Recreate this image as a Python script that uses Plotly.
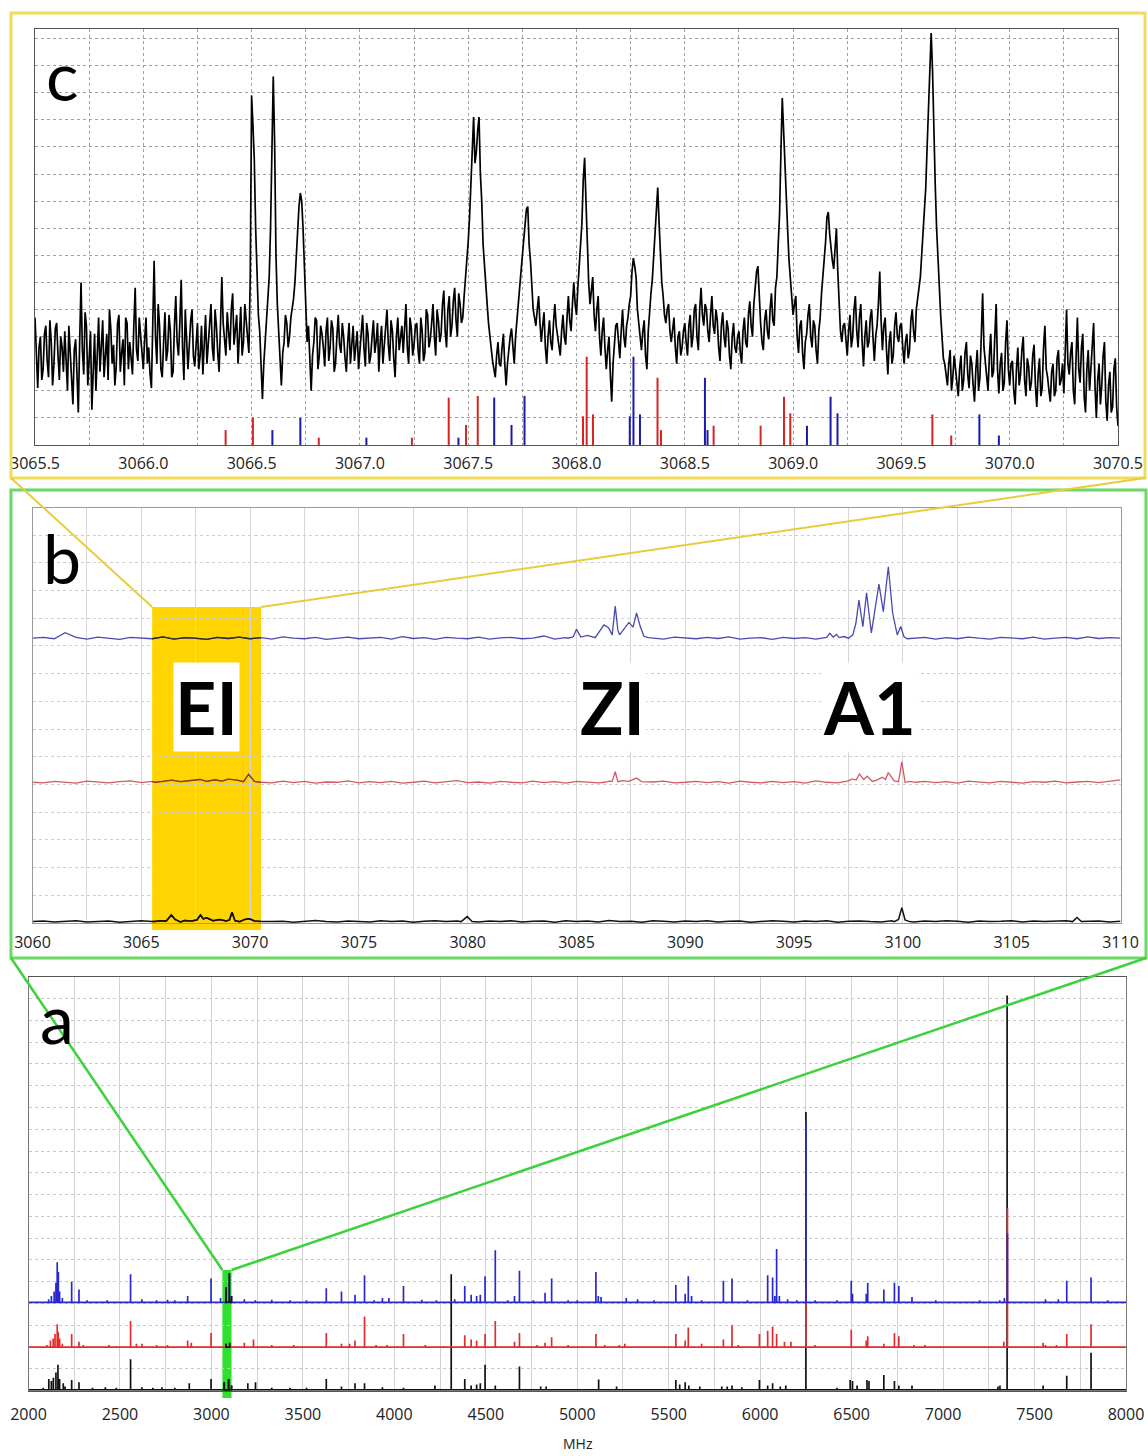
import numpy as np
import plotly.graph_objects as go

W, H = 1148, 1456

# ---------------- panel c (zoom 3065.5-3070.5 MHz) ----------------
c_x0, c_x1 = 3065.5, 3070.5
# signal in tenths of a grid unit, sampled every 0.0125 MHz
c_signal = [
    47, 21, 40, 28, 44, 25, 38, 30, 45, 24, 36, 42, 20, 33, 15, 39, 12, 60, 26, 44,
    30, 13, 41, 35, 27, 46, 32, 24, 43, 37, 29, 48, 34, 22, 45, 38, 26, 58, 31, 40,
    28, 47, 36, 21, 68, 30, 44, 25, 49, 35, 42, 27, 55, 33, 61, 24, 41, 37, 50, 29,
    45, 33, 26, 48, 38, 52, 31, 44, 27, 62, 40, 49, 35, 56, 42, 30, 51, 38, 46, 34,
    129, 105, 60, 42, 17, 38, 55, 80, 136, 70, 42, 22, 38, 45, 40, 50, 60, 78, 93, 80,
    55, 44, 20, 38, 46, 33, 41, 29, 47, 36, 43, 30, 48, 34, 40, 27, 45, 37, 31, 42,
    35, 48, 29, 41, 33, 46, 38, 27, 44, 36, 50, 31, 42, 25, 47, 39, 34, 52, 30, 43,
    37, 45, 30, 42, 34, 48, 39, 52, 33, 46, 41, 57, 36, 55, 44, 58, 40, 52, 47, 62,
    75, 98, 121, 108, 121, 90, 65, 52, 40, 31, 25, 38, 29, 41, 22, 36, 43, 30, 47, 58,
    70, 84, 88, 68, 50, 44, 55, 38, 49, 30, 46, 35, 52, 40, 33, 48, 37, 55, 42, 60,
    48, 66, 82, 106, 72, 52, 62, 42, 55, 33, 47, 28, 40, 16, 38, 45, 32, 50, 36, 47,
    55, 69, 62, 44, 35, 46, 28, 50, 61, 80, 95, 70, 55, 45, 52, 38, 47, 30, 42, 36,
    45, 33, 48, 40, 52, 35, 58, 44, 50, 38, 55, 41, 46, 31, 49, 36, 43, 28, 45, 34,
    42, 30, 47, 36, 53, 40, 58, 66, 45, 35, 50, 39, 56, 44, 62, 85, 128, 101, 79, 60,
    48, 55, 34, 46, 28, 41, 52, 36, 44, 30, 47, 62, 75, 86, 72, 65, 80, 50, 38, 45,
    33, 48, 40, 55, 36, 52, 29, 46, 38, 50, 31, 44, 64, 35, 47, 26, 42, 33, 49, 38,
    45, 30, 41, 35, 50, 38, 55, 62, 75, 95, 125, 152, 114, 80, 58, 40, 30, 22, 35, 25,
    28, 18, 33, 24, 38, 21, 30, 16, 35, 25, 56, 30, 20, 41, 27, 52, 19, 34, 23, 46,
    22, 31, 15, 36, 26, 40, 18, 29, 23, 37, 14, 32, 21, 44, 25, 16, 30, 20, 35, 24,
    19, 50, 26, 38, 15, 47, 23, 41, 12, 35, 28, 45, 10, 30, 22, 38, 9, 27, 14, 32,
    7,
]
# in-between samples (offset by half a step), tenths of a grid unit
c_signal_mid = [
    30, 36, 24, 41, 31, 46, 22, 43, 33, 40, 27, 31, 44, 24, 35, 26, 38, 35, 49, 22,
    42, 29, 20, 47, 38, 25, 41, 50, 30, 22, 45, 27, 39, 47, 28, 30, 44, 35, 47, 33,
    39, 30, 26, 45, 40, 52, 28, 38, 31, 48, 25, 44, 38, 45, 36, 50, 28, 46, 33, 38,
    28, 44, 37, 30, 47, 36, 50, 34, 44, 45, 33, 40, 50, 37, 48, 42, 33, 52, 40, 62,
    118, 80, 48, 28, 30, 46, 62, 105, 112, 52, 30, 34, 48, 36, 47, 54, 70, 88, 90, 66,
    38, 30, 33, 47, 28, 44, 36, 42, 31, 46, 27, 40, 37, 45, 32, 38, 30, 44, 36, 28,
    41, 36, 45, 30, 40, 34, 45, 38, 30, 43, 37, 46, 32, 40, 35, 44, 46, 36, 47, 33,
    44, 35, 47, 31, 50, 36, 45, 40, 50, 38, 52, 42, 50, 40, 53, 46, 56, 45, 55, 66,
    84, 110, 104, 116, 100, 74, 58, 45, 36, 28, 33, 30, 36, 30, 30, 40, 35, 40, 52, 64,
    78, 87, 74, 58, 47, 50, 45, 44, 36, 40, 38, 45, 44, 36, 42, 40, 47, 46, 52, 52,
    58, 72, 98, 90, 60, 58, 48, 50, 40, 42, 36, 35, 26, 30, 44, 36, 42, 40, 44, 52,
    64, 66, 50, 38, 42, 33, 42, 56, 70, 90, 82, 60, 48, 50, 42, 44, 36, 40, 33, 42,
    38, 44, 36, 50, 40, 50, 48, 52, 42, 48, 44, 50, 36, 44, 40, 46, 33, 40, 36, 40,
    34, 42, 38, 48, 44, 52, 64, 52, 38, 46, 42, 50, 46, 58, 74, 108, 116, 92, 68, 52,
    52, 40, 44, 34, 38, 48, 40, 46, 35, 42, 56, 70, 84, 78, 68, 74, 64, 42, 44, 38,
    42, 36, 50, 42, 47, 38, 40, 36, 47, 40, 40, 52, 46, 44, 35, 38, 30, 44, 40, 44,
    36, 38, 32, 46, 42, 50, 58, 70, 86, 110, 140, 138, 96, 68, 48, 32, 26, 30, 20, 33,
    22, 28, 20, 34, 26, 33, 22, 28, 20, 40, 36, 24, 33, 25, 40, 28, 30, 20, 38, 28,
    30, 20, 28, 22, 35, 24, 32, 20, 33, 22, 26, 18, 36, 28, 20, 27, 18, 32, 22, 30,
    34, 30, 34, 20, 32, 28, 36, 18, 28, 20, 40, 22, 24, 15, 33, 16, 22, 12, 28, 14,
]
c_red_x = [3066.38, 3066.506, 3066.81, 3067.24, 3067.41, 3067.49, 3067.544, 3068.03, 3068.047,
           3068.076, 3068.374, 3068.39, 3068.633, 3068.85, 3068.958, 3068.987, 3069.643, 3069.73]
c_red_h = [0.55, 1.0, 0.27, 0.27, 1.75, 0.74, 1.81, 1.06, 3.26,
           1.13, 2.48, 0.55, 0.71, 0.71, 1.78, 1.17, 1.13, 0.35]
c_blue_x = [3066.596, 3066.725, 3067.03, 3067.455, 3067.62, 3067.70, 3067.76, 3068.246, 3068.263,
            3068.293, 3068.593, 3068.605, 3069.064, 3069.173, 3069.205, 3069.86, 3069.95]
c_blue_h = [0.55, 1.0, 0.27, 0.27, 1.75, 0.74, 1.81, 1.06, 3.26,
            1.13, 2.48, 0.55, 0.71, 1.78, 1.17, 1.13, 0.35]

# ---------------- panel b (3060-3110 MHz) ----------------
b_x0, b_x1 = 3060, 3110
b_blue_base, b_red_base, b_black_base = 10.28, 5.08, 0.05
b_blue_wiggle = [0, 3, -2, 20, 3, -3, 4, 0, -4, 3, 1, -2, 5, -3, 2, 0, -4, 3, -1, 4,
                 -2, 2, -3, 5, 0, -2, 3, -4, 1, 4, -2, 0, 3, -3, 6, -1, 2, -4, 3, 0,
                 -2, 4, -3, 1, 3, -2, 0, 8, -3, 2, -1, 4, -3, 0, 3, -4, 2, 1, -3, 4,
                 0, -2, 3, -1, 5, -3, 0, 2, -4, 3, -1, 2, -3, 4, 0, -2, 3, -4, 2, 5,
                 -1, 0, 3, -3, 2, -2, 4, 0, -3, 3, 1, -2, 4, -3, 0, 3, -2, 5, -1, 2, 0]
b_red_wiggle = [0, -2, 3, 1, -3, 4, 0, -2, 2, 5, -1, 3, -3, 2, 0, 4, -2, 1, 3, -3,
                2, 0, -2, 4, -1, 3, -3, 1, 0, 5, -2, 2, -1, 3, -3, 0, 4, -2, 2, 6,
                -1, 1, -3, 3, 0, -2, 4, -1, 2, -3, 3, 0, -2, 5, -1, 2, -3, 1, 4, -2,
                0, 3, -1, 2, -3, 4, 0, -2, 3, -1, 2, -3, 5, 0, -2, 3, -1, 1, -3, 4,
                0, -2, 3, -1, 2, -3, 4, 0, -2, 3, 1, -3, 2, 0, 4, -2, 1, 3, -1, 5, 9]
b_black_wiggle = [0, 2, -1, 1, 3, -1, 0, 2, -2, 1, 3, 0, -1, 2, 0, 4, -1, 1, 0, 2,
                  -1, 3, 0, 1, -2, 2, 4, 0, -1, 2, 1, -1, 3, 0, 2, -2, 1, 3, 0, 2,
                  5, -1, 2, 0, 3, -1, 1, 2, -2, 3, 0, 2, -1, 4, 0, 1, -2, 3, 1, -1,
                  2, 0, 3, -1, 1, 2, -2, 0, 3, 1, -1, 2, 0, 3, -2, 1, 2, 0, -1, 3,
                  1, -1, 2, 0, 3, 1, -2, 2, 0, 1, 3, -1, 2, 0, 1, 3, 8, 0, 2, -1, 1]
b_blue_clusters = [
    ([3084.6, 3084.85, 3085.0, 3085.2, 3085.5, 3085.86, 3086.05, 3086.26, 3086.47, 3086.64,
      3086.78, 3086.9, 3086.98, 3087.24, 3087.41, 3087.6, 3087.76, 3087.93, 3088.1, 3088.3, 3088.6],
     [0, 5, 32, 4, 10, 2, 22, 48, 38, 12, 116, 30, 12, 42, 57, 40, 91, 42, 7, 2, 0]),
    ([3096.3, 3096.5, 3096.64, 3096.8, 3096.95, 3097.07, 3097.3, 3097.5, 3097.7, 3097.84,
      3097.98, 3098.16, 3098.33, 3098.55, 3098.75, 3098.9, 3099.1, 3099.33, 3099.53, 3099.74,
      3099.9, 3100.05, 3100.2, 3100.5],
     [0, 3, 18, 4, 14, 2, 6, 0, 12, 54, 138, 42, 164, 19, 120, 195, 96, 258, 90, 12, 42, 5, -2, 0]),
]
b_red_clusters = [
    ([3065.6, 3066.0, 3066.4, 3066.8, 3067.2, 3067.7, 3068.0, 3068.4, 3068.7, 3069.0, 3069.4,
      3069.7, 3069.93, 3070.2, 3070.5],
     [0, 3, 8, 2, 5, 10, 3, 9, 4, 11, 8, 2, 29, 3, 0]),
    ([3086.3, 3086.5, 3086.64, 3086.78, 3086.9, 3087.1, 3087.4, 3087.76, 3088.0, 3088.3],
     [0, 4, 3, 38, 2, 6, 3, 15, 2, 0]),
    ([3097.2, 3097.5, 3097.67, 3097.85, 3098.0, 3098.2, 3098.36, 3098.6, 3098.8, 3099.05,
      3099.2, 3099.33, 3099.6, 3099.8, 3099.95, 3100.1, 3100.3, 3100.6],
     [0, 5, 12, 8, 30, 10, 22, 3, 8, 18, 10, 35, 5, 2, 74, 0, 3, 0]),
]
b_black_clusters = [
    ([3065.6, 3065.9, 3066.15, 3066.38, 3066.55, 3066.8, 3067.0, 3067.3, 3067.55, 3067.72,
      3067.85, 3068.0, 3068.3, 3068.6, 3068.9, 3069.05, 3069.17, 3069.3, 3069.52, 3069.75,
      3069.97, 3070.2, 3070.5],
     [0, 3, 2, 24, 8, -1, 4, 2, 6, 24, 10, 14, 3, 8, 2, 6, 34, 4, 0, 8, 10, 2, 0]),
    ([3079.7, 3079.98, 3080.2], [0, 18, 0]),
    ([3099.6, 3099.8, 3099.95, 3100.1, 3100.3], [0, 8, 50, 6, 0]),
    ([3107.8, 3108.0, 3108.2], [0, 15, 0]),
]
b_labels = ["EI", "ZI", "A1"]
b_label_x = [3067.99, 3086.65, 3098.46]
b_label_y = 7.78

# ---------------- panel a (2000-8000 MHz) ----------------
a_x0, a_x1 = 2000, 8000
a_blue_base, a_red_base, a_black_base = 4.05, 2.0, 0.04
a_blue_x = [2110, 2125, 2140, 2150, 2157, 2163, 2170, 2185, 2236, 2276, 2320, 2430, 2558, 2620, 2700,
            2760, 2800, 2870, 2998, 3050, 3080, 3098, 3110, 3180, 3240, 3330, 3430, 3520, 3628, 3711,
            3785, 3837, 3890, 3935, 3970, 4050, 4150, 4230, 4330, 4385, 4420, 4450, 4470, 4496,
            4552, 4620, 4657, 4684, 4760, 4824, 4860, 4950, 5000, 5102, 5115, 5130, 5268, 5330, 5420,
            5539, 5590, 5607, 5625, 5680, 5799, 5846, 5930, 6041, 6068, 6080, 6090, 6105, 6150, 6200,
            6250, 6300, 6420, 6498, 6505, 6580, 6588, 6676, 6734, 6758, 6830, 6960, 7200, 7310, 7335,
            7352, 7560, 7630, 7676, 7809, 7900]
a_blue_h = [0.15, 0.3, 0.5, 0.9, 1.85, 1.4, 0.5, 0.2, 0.95, 0.6, 0.1, 0.1, 1.3, 0.15, 0.1,
            0.12, 0.1, 0.3, 1.1, 0.2, 0.7, 1.35, 0.3, 0.15, 0.1, 0.12, 0.1, 0.1, 0.65, 0.5,
            0.35, 1.25, 0.1, 0.2, 0.2, 0.75, 0.12, 0.1, 0.15, 0.75, 0.35, 0.3, 0.35, 1.2,
            2.4, 0.1, 0.3, 1.45, 0.1, 0.45, 1.1, 0.1, 0.1, 1.4, 0.3, 0.25, 0.2, 0.15, 0.1,
            0.8, 0.4, 1.2, 0.3, 0.1, 1.0, 1.1, 0.1, 1.25, 1.15, 0.3, 2.45, 0.3, 0.15, 0.1,
            8.3, 0.1, 0.1, 1.0, 0.4, 0.4, 0.9, 0.6, 0.9, 0.75, 0.25, 0.1, 0.1, 0.1, 0.2,
            3.15, 0.15, 0.15, 1.0, 1.15, 0.1]
a_red_x = [2100, 2120, 2135, 2145, 2157, 2162, 2170, 2185, 2236, 2276, 2300, 2440, 2558, 2590, 2620,
           2700, 2760, 2870, 2890, 2998, 3080, 3100, 3180, 3230, 3330, 3450, 3628, 3711, 3755, 3785,
           3837, 3900, 3960, 4050, 4170, 4385, 4420, 4450, 4496, 4552, 4657, 4684, 4780, 4824, 4860,
           4950, 5102, 5150, 5230, 5260, 5539, 5590, 5607, 5680, 5799, 5846, 5880, 5996, 6041, 6068,
           6090, 6133, 6168, 6250, 6300, 6498, 6580, 6588, 6676, 6734, 6758, 6840, 6900, 7332, 7352,
           7547, 7560, 7620, 7676, 7809]
a_red_h = [0.1, 0.3, 0.4, 0.6, 1.05, 0.7, 0.4, 0.15, 0.6, 0.25, 0.1, 0.1, 1.2, 0.15, 0.15,
           0.1, 0.1, 0.3, 0.2, 0.65, 0.15, 0.2, 0.2, 0.35, 0.1, 0.1, 0.65, 0.15, 0.15, 0.3,
           1.4, 0.1, 0.1, 0.6, 0.1, 0.55, 0.35, 0.3, 0.6, 1.2, 0.25, 0.65, 0.1, 0.2, 0.45,
           0.1, 0.6, 0.1, 0.1, 0.15, 0.6, 0.3, 0.9, 0.15, 0.35, 1.0, 0.1, 0.6, 0.75, 0.95,
           0.6, 0.25, 0.25, 3.0, 0.1, 0.8, 0.3, 0.5, 0.15, 0.65, 0.5, 0.1, 0.1, 0.25, 6.37,
           0.2, 0.1, 0.1, 0.6, 1.05]
a_black_x = [2080, 2111, 2125, 2136, 2150, 2161, 2170, 2190, 2200, 2236, 2276, 2350, 2420, 2480, 2558,
             2620, 2680, 2730, 2800, 2879, 2998, 3070, 3094, 3110, 3199, 3241, 3330, 3430, 3520, 3628,
             3711, 3785, 3837, 3935, 4050, 4222, 4311, 4385, 4420, 4450, 4470, 4496, 4552, 4684, 4800,
             4830, 5117, 5215, 5539, 5560, 5590, 5610, 5670, 5790, 5820, 5846, 5900, 5996, 6041, 6068,
             6110, 6140, 6250, 6420, 6492, 6505, 6530, 6584, 6595, 6676, 6734, 6758, 6830, 7300, 7311,
             7350, 7547, 7676, 7809]
a_black_h = [0.1, 0.5, 0.4, 0.55, 0.8, 1.15, 0.5, 0.3, 0.15, 0.45, 0.35, 0.1, 0.12, 0.1, 1.4,
             0.12, 0.1, 0.12, 0.1, 0.3, 0.5, 0.35, 0.5, 0.2, 0.3, 0.35, 0.1, 0.1, 0.1, 0.5,
             0.15, 0.3, 0.3, 0.12, 0.1, 0.2, 5.3, 0.5, 0.2, 0.25, 0.3, 1.15, 0.2, 1.07, 0.15,
             0.15, 0.47, 0.15, 0.45, 0.25, 0.35, 0.2, 0.15, 0.15, 0.15, 0.2, 0.12, 0.45, 0.2, 0.3,
             0.15, 0.2, 12.75, 0.1, 0.45, 0.4, 0.2, 0.45, 0.4, 0.68, 0.4, 0.2, 0.2, 0.15, 0.2,
             18.1, 0.2, 0.65, 1.7]

# ---------------- layout geometry (pixels) ----------------
C_DOM = dict(l=35, r=1118, t=29.3, b=445)
B_DOM = dict(l=32.5, r=1120.5, t=508, b=923)
A_DOM = dict(l=28.5, r=1126, t=976.7, b=1390.7)


def px(xp):
    return xp / W


def py(yp):
    return 1 - yp / H


def data_to_px(val, lo, hi, dom):
    return dom["l"] + (val - lo) / (hi - lo) * (dom["r"] - dom["l"])


def sticks(xs, hs, base=0.0):
    X, Y = [], []
    for x, h in zip(xs, hs):
        X += [x, x, None]
        Y += [base, base + h, None]
    return X, Y


def stick_path(xs, hs, base, lo, hi):
    order = np.argsort(xs)
    X, Y = [lo], [base]
    for i in order:
        X += [xs[i], xs[i], xs[i]]
        Y += [base, base + hs[i], base]
    X.append(hi)
    Y.append(base)
    return X, Y


def merged(wiggle, base, clusters, lo, hi):
    xs = np.linspace(lo, hi, len(wiggle))
    ys = base + np.array(wiggle) / 100.0
    keep = np.ones(len(xs), bool)
    for cx, _ in clusters:
        keep &= ~((xs >= min(cx)) & (xs <= max(cx)))
    pts = list(zip(xs[keep], ys[keep]))
    for cx, cy in clusters:
        pts += [(x, base + v / 100.0) for x, v in zip(cx, cy)]
    pts.sort()
    return [p[0] for p in pts], [p[1] for p in pts]


fig = go.Figure()

# ---- panel c traces
main_x = np.linspace(c_x0, c_x1, len(c_signal))
step = main_x[1] - main_x[0]
mid_x = main_x[:len(c_signal_mid)] + step / 2
pts = sorted(list(zip(main_x, c_signal)) + list(zip(mid_x, c_signal_mid)))
cx = [p[0] for p in pts]
cy = [p[1] / 10.0 for p in pts]
fig.add_trace(go.Scatter(x=cx, y=cy, mode="lines", line=dict(color="#000000", width=1.7),
                         xaxis="x", yaxis="y", hoverinfo="skip"))
rx, ry = sticks(c_red_x, c_red_h)
fig.add_trace(go.Scatter(x=rx, y=ry, mode="lines", line=dict(color="#D42424", width=2),
                         xaxis="x", yaxis="y", hoverinfo="skip"))
bx, by = sticks(c_blue_x, c_blue_h)
fig.add_trace(go.Scatter(x=bx, y=by, mode="lines", line=dict(color="#1A1AA8", width=2),
                         xaxis="x", yaxis="y", hoverinfo="skip"))

# ---- panel b traces
for wig, base, cl, col, dark, wd in [
    (b_black_wiggle, b_black_base, b_black_clusters, "#111111", "#111111", 1.5),
    (b_red_wiggle, b_red_base, b_red_clusters, "#D25A64", "#8A3A22", 1.3),
    (b_blue_wiggle, b_blue_base, b_blue_clusters, "#4A4AAE", "#2A2A30", 1.3),
]:
    X, Y = merged(wig, base, cl, b_x0, b_x1)
    fig.add_trace(go.Scatter(x=X, y=Y, mode="lines", line=dict(color=col, width=wd),
                             xaxis="x2", yaxis="y2", hoverinfo="skip"))
    Xi = [x for x in X if c_x0 <= x <= c_x1]
    Yi = [y for x, y in zip(X, Y) if c_x0 <= x <= c_x1]
    fig.add_trace(go.Scatter(x=Xi, y=Yi, mode="lines", line=dict(color=dark, width=wd),
                             xaxis="x2", yaxis="y2", hoverinfo="skip"))

# ---- panel a traces (black, red, blue order)
for xs, hs, base, col in [
    (a_black_x, a_black_h, a_black_base, "#111111"),
    (a_red_x, a_red_h, a_red_base, "#E42B2B"),
    (a_blue_x, a_blue_h, a_blue_base, "#2828D2"),
]:
    X, Y = stick_path(xs, hs, base, a_x0, a_x1)
    fig.add_trace(go.Scatter(x=X, y=Y, mode="lines", line=dict(color=col, width=1.7),
                             xaxis="x3", yaxis="y3", hoverinfo="skip"))
    Xi = [x for x in X if b_x0 <= x <= b_x1]
    Yi = [y for x, y in zip(X, Y) if b_x0 <= x <= b_x1]
    fig.add_trace(go.Scatter(x=Xi, y=Yi, mode="lines", line=dict(color="#151515", width=1.7),
                             xaxis="x3", yaxis="y3", hoverinfo="skip"))

tickfont = dict(family="Open Sans, DejaVu Sans, sans-serif", size=16, color="#222222")


def xax(dom, rng, dtick, minor, fmt, gridcol, griddash, linecol, anchor, standoff):
    return dict(domain=[px(dom["l"]), px(dom["r"])], range=rng, dtick=dtick, tick0=rng[0],
                tickformat=fmt, showgrid=True, gridcolor=gridcol, griddash=griddash, gridwidth=1,
                minor=dict(dtick=minor, tick0=rng[0], showgrid=True, gridcolor=gridcol,
                           griddash=griddash, gridwidth=1),
                showline=True, linecolor=linecol, linewidth=1, mirror=True, ticks="",
                tickfont=tickfont, zeroline=False, anchor=anchor, ticklabelstandoff=standoff,
                fixedrange=True, automargin=False)


def yax(dom, rng, gridcol, linecol, anchor):
    return dict(domain=[py(dom["b"]), py(dom["t"])], range=rng, dtick=1, tick0=0,
                showgrid=True, gridcolor=gridcol, griddash="dot", gridwidth=1,
                showline=True, linecolor=linecol, linewidth=1, mirror=True,
                showticklabels=False, ticks="", zeroline=False, anchor=anchor, fixedrange=True,
                automargin=False)


layout = dict(
    width=W, height=H, autosize=False, margin=dict(l=0, r=0, t=0, b=0, pad=0),
    paper_bgcolor="white", plot_bgcolor="white", showlegend=False,
    xaxis=xax(C_DOM, [c_x0, c_x1], 0.5, 0.25, ".1f", "#A0A0A0", "dot", "#555555", "y", 4),
    yaxis=yax(C_DOM, [0, 15.34], "#A0A0A0", "#555555", "x"),
    xaxis2=xax(B_DOM, [b_x0, b_x1], 5, 2.5, "d", "#D6D6D6", "solid", "#9A9A9A", "y2", 5),
    yaxis2=yax(B_DOM, [0, 14.98], "#CFCFCF", "#9A9A9A", "x2"),
    xaxis3=xax(A_DOM, [a_x0, a_x1], 500, 250, "d", "#D2D2D2", "solid", "#555555", "y3", 9),
    yaxis3=yax(A_DOM, [0, 19], "#C8C8C8", "#777777", "x3"),
)
fig.update_layout(**layout)

shapes = []
shapes.append(dict(type="rect", xref="x2", yref="paper", x0=c_x0, x1=c_x1, y0=py(930), y1=py(607),
                   fillcolor="#FFD400", line=dict(width=0), layer="below"))
shapes.append(dict(type="rect", xref="x3", yref="paper", x0=b_x0, x1=b_x1, y0=py(1398), y1=py(1270),
                   fillcolor="#2FE02F", line=dict(width=0), layer="below"))
shapes.append(dict(type="rect", xref="paper", yref="paper", x0=px(11), x1=px(1145), y0=py(478), y1=py(13),
                   line=dict(color="#F0DC5A", width=3)))
shapes.append(dict(type="rect", xref="paper", yref="paper", x0=px(11), x1=px(1146), y0=py(958), y1=py(490),
                   line=dict(color="#6AD862", width=3)))
yl = data_to_px(c_x0, b_x0, b_x1, B_DOM)
yr = data_to_px(c_x1, b_x0, b_x1, B_DOM)
shapes.append(dict(type="line", xref="paper", yref="paper", x0=px(11), y0=py(478), x1=px(yl), y1=py(607),
                   line=dict(color="#E6CE3A", width=2)))
shapes.append(dict(type="line", xref="paper", yref="paper", x0=px(1145), y0=py(478), x1=px(yr), y1=py(607),
                   line=dict(color="#E6CE3A", width=2)))
gl = data_to_px(b_x0, a_x0, a_x1, A_DOM)
gr = data_to_px(b_x1, a_x0, a_x1, A_DOM)
shapes.append(dict(type="line", xref="paper", yref="paper", x0=px(11), y0=py(958), x1=px(gl), y1=py(1270),
                   line=dict(color="#3CD23C", width=2.5)))
shapes.append(dict(type="line", xref="paper", yref="paper", x0=px(1146), y0=py(958), x1=px(gr), y1=py(1270),
                   line=dict(color="#3CD23C", width=2.5)))
fig.update_layout(shapes=shapes)

ann = []
letter_font = dict(family="Lato, Open Sans, sans-serif", size=68, color="#000000")
for txt, x, y in [("c", 62, 74), ("b", 62, 557), ("a", 57, 1018)]:
    ann.append(dict(text=txt, xref="paper", yref="paper", x=px(x), y=py(y), showarrow=False,
                    xanchor="center", yanchor="middle", font=letter_font))
big_font = dict(family="Lato, Open Sans, sans-serif", size=72, color="#000000")
for txt, x in zip(b_labels, b_label_x):
    ann.append(dict(text="<b>%s</b>" % txt, xref="x2", yref="y2", x=x, y=b_label_y, showarrow=False,
                    xanchor="center", yanchor="middle", font=big_font, bgcolor="white", borderpad=1))
ann.append(dict(text="MHz", xref="paper", yref="paper", x=px(578), y=py(1455), showarrow=False,
                xanchor="center", yanchor="bottom",
                font=dict(family="Open Sans, sans-serif", size=14, color="#222222")))
fig.update_layout(annotations=ann)

fig.write_html("out.html")
